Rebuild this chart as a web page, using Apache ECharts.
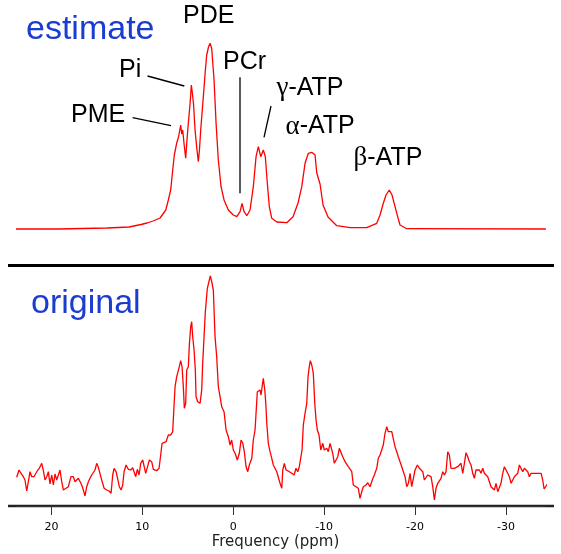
<!DOCTYPE html>
<html>
<head>
<meta charset="utf-8">
<script src="https://cdn.jsdelivr.net/npm/echarts@6/dist/echarts.min.js"></script>
<style>
html,body{margin:0;padding:0;background:#fff;}
#chart{width:561px;height:554px;}
</style>
</head>
<body>
<div id="chart"></div>
<script>
// Tick labels of the frequency axis (ppm)
const ppmTicks = [20, 10, 0, -10, -20, -30];
const axisMin = -34.3;
const axisMax = 23.9;

// Fitted ("estimate") spectrum: [ppm, amplitude]
const estimateSpectrum = [
  [23.90,0],[19.28,0],[19.17,1],[13.89,1],[13.78,2],[11.46,2],[11.35,3],[10.14,4.5],[9.48,6],[8.82,8],
  [8.05,11],[7.42,19],[7.14,29],[6.88,39],[6.66,59],[6.48,74],[6.22,86],[6.02,92],[5.78,104],[5.67,95],
  [5.56,99],[5.41,85],[5.23,70.7],[5.08,90],[4.94,106],[4.75,125],[4.61,144],[4.50,136],[4.37,125],[4.20,99],
  [4.00,80],[3.84,67.3],[3.71,80],[3.58,99],[3.29,132.3],[3.10,155],[2.92,174],[2.72,182],[2.55,185.7],[2.37,180.7],
  [2.11,149],[1.89,106],[1.64,69],[1.34,42.3],[1.01,29],[0.54,19],[-0.01,14],[-0.39,12.3],[-0.75,17.3],[-0.97,25.7],
  [-1.19,17.3],[-1.49,13.3],[-1.85,19],[-2.21,42.3],[-2.51,72.3],[-2.76,82.3],[-3.03,72.3],[-3.31,79],[-3.53,72.3],[-3.75,45.7],
  [-3.97,22.3],[-4.24,10.7],[-4.79,7],[-5.89,6.3],[-6.58,12.3],[-7.13,26],[-7.54,42.3],[-7.90,65.7],[-8.26,75.7],[-8.64,76.7],
  [-9.00,74],[-9.19,56],[-9.55,45],[-9.88,24],[-10.43,12],[-11.39,3.3],[-12.85,1.3],[-14.69,1.3],[-15.79,5.7],[-16.15,14],
  [-16.51,25.7],[-16.81,34],[-17.17,39],[-17.47,34],[-17.80,22.3],[-18.13,11],[-18.35,4],[-19.09,0.3],[-34.40,0]
];

// Measured ("original") spectrum: [ppm, amplitude]
const originalSpectrum = [
  [23.82,28.7],[23.57,36],[23.27,31.7],[23.09,29.3],[22.91,26],[22.72,15],[22.54,24.3],[22.36,34.3],[22.17,29.3],[21.92,29.3],
  [21.70,27.7],[21.55,35.3],[21.33,37.7],[21.07,42.7],[20.89,35.3],[20.71,26],[20.52,29.3],[20.34,34.3],[20.16,22],[19.97,31],
  [19.79,21],[19.61,32],[19.42,26],[19.24,31],[19.06,36],[18.87,24.3],[18.69,16],[18.40,17.7],[18.14,19.3],[17.85,29.3],
  [17.59,29.3],[17.41,24.3],[17.22,26],[17.04,27.7],[16.86,27.7],[16.67,21],[16.49,16],[16.31,10],[16.12,19.3],[15.94,24.3],
  [15.76,27.7],[15.57,31],[15.39,29.3],[15.21,36],[15.02,42.7],[14.84,38.7],[14.66,36.7],[14.47,26],[14.21,17.7],[13.92,16],
  [13.66,15],[13.44,12.7],[13.26,31],[13.11,37.7],[12.89,34.3],[12.71,34.3],[12.53,19.3],[12.34,16],[12.16,21],[12.01,34.3],
  [11.79,41],[11.54,36.7],[11.28,36],[11.06,38.3],[10.91,36.7],[10.73,29.3],[10.55,36.7],[10.36,31],[10.18,42.7],[9.96,46],
  [9.81,47.7],[9.63,32.7],[9.45,38.7],[9.23,46],[8.97,44.3],[8.79,36.7],[8.42,35.3],[8.16,37.7],[7.98,51],[7.83,62.7],
  [7.61,61],[7.39,64.3],[7.14,71],[6.88,71],[6.66,74.3],[6.51,101],[6.40,119.3],[6.22,129.3],[5.93,139.3],[5.78,145.3],
  [5.63,139.3],[5.49,119.3],[5.38,97.7],[5.23,102.7],[5.12,136],[4.94,139.3],[4.83,161],[4.68,179.3],[4.57,184.3],[4.46,169.3],
  [4.31,156],[4.17,136],[4.09,109.3],[3.91,104.3],[3.65,102.7],[3.47,116],[3.36,142.7],[3.21,169.3],[3.07,194.3],[2.85,217.7],
  [2.63,226],[2.52,230],[2.37,224.3],[2.19,216],[2.00,169.3],[1.82,149.3],[1.64,119.3],[1.45,109.3],[1.27,99.3],[1.01,94.3],
  [0.79,76],[0.54,69.3],[0.35,61],[0.17,66],[-0.01,56],[-0.20,52.7],[-0.45,46],[-0.67,52.7],[-0.86,66],[-1.05,62.7],
  [-1.22,54.3],[-1.41,39.3],[-1.60,34.3],[-1.77,41],[-2.04,47.7],[-2.21,66],[-2.40,76],[-2.51,92.7],[-2.65,114.3],[-2.84,112.7],
  [-2.95,116],[-3.06,111],[-3.20,121],[-3.31,127.7],[-3.47,116],[-3.58,102.7],[-3.69,82.7],[-3.86,62.7],[-4.05,54.3],[-4.24,47.7],
  [-4.41,41],[-4.63,39.3],[-4.79,34.3],[-4.96,32.7],[-5.15,22.7],[-5.34,17.7],[-5.45,36],[-5.62,42.7],[-5.81,36],[-5.95,37.7],
  [-6.17,34.3],[-6.44,32.7],[-6.69,31],[-6.91,37.7],[-7.10,34.3],[-7.27,39.3],[-7.43,41],[-7.57,56],[-7.71,81],[-7.90,92.7],
  [-8.09,102.7],[-8.23,129.3],[-8.37,139.3],[-8.48,145.3],[-8.64,141],[-8.81,132.7],[-8.97,102.7],[-9.11,86],[-9.25,76],[-9.44,71],
  [-9.63,56],[-9.85,62.7],[-10.02,56],[-10.29,57.7],[-10.46,54.3],[-10.65,62.7],[-10.76,61],[-10.95,52.7],[-11.12,42.7],[-11.31,41],
  [-11.50,49.3],[-11.67,57.7],[-11.86,59.3],[-12.05,49.3],[-12.30,44.3],[-12.49,42.7],[-12.66,39.3],[-12.85,41],[-13.04,34.3],[-13.21,21],
  [-13.51,19.3],[-13.76,17.7],[-13.95,7.7],[-14.14,14.3],[-14.31,19.3],[-14.61,21],[-14.80,23.3],[-15.05,19.3],[-15.30,26],[-15.52,31],
  [-15.79,37.7],[-15.96,47.7],[-16.15,51],[-16.34,52.7],[-16.51,61],[-16.70,72.7],[-16.89,79.3],[-17.06,74.3],[-17.25,76],[-17.44,74.3],
  [-17.61,76],[-17.80,59.3],[-17.99,54.3],[-18.16,49.3],[-18.35,47.7],[-18.54,39.3],[-18.71,37.7],[-18.90,29.3],[-19.09,19.3],[-19.27,22.7],
  [-19.45,32.7],[-19.64,19.3],[-19.82,27.7],[-20.00,36],[-20.26,41],[-20.48,37.7],[-20.66,39.3],[-20.85,34.3],[-21.03,26],[-21.21,24.3],
  [-21.40,31],[-21.58,32.7],[-21.76,29.3],[-21.95,19.3],[-22.13,6],[-22.31,17.7],[-22.50,22.7],[-22.68,22.7],[-22.86,27.7],[-23.05,34.3],
  [-23.23,31],[-23.41,34.3],[-23.60,54.3],[-23.78,51],[-23.96,37.7],[-24.15,39.3],[-24.33,37.7],[-24.51,37.7],[-24.70,39.3],[-24.88,37.7],
  [-25.06,42.7],[-25.25,32.7],[-25.43,42.7],[-25.61,53.3],[-25.80,49.3],[-25.98,44.3],[-26.16,41],[-26.35,32.7],[-26.53,27.7],[-26.71,36],
  [-26.90,34.3],[-27.08,36],[-27.26,32.7],[-27.45,37.7],[-27.63,32.7],[-27.81,31],[-28.00,29.3],[-28.18,24.3],[-28.36,19.3],[-28.55,17.7],
  [-28.73,16],[-28.91,22.7],[-29.10,14.3],[-29.28,12.7],[-29.46,22.7],[-29.65,32.7],[-29.83,39.3],[-30.02,37.7],[-30.20,32.7],[-30.38,29.3],
  [-30.57,22.7],[-30.75,21],[-30.93,29.3],[-31.12,31],[-31.30,32.7],[-31.48,41],[-31.67,39.3],[-31.85,34.3],[-32.03,37.7],[-32.22,39.3],
  [-32.40,34.3],[-32.58,29.3],[-32.77,32.7],[-32.95,34.3],[-33.13,32.7],[-33.32,34.3],[-33.50,32.7],[-33.68,31],[-33.87,32.7],[-34.05,26],
  [-34.20,17],[-34.38,17.7],[-34.49,21],[-34.60,22]
];

const panelTitles = ['estimate', 'original'];

const chart = echarts.init(document.getElementById('chart'), null, {renderer: 'canvas'});

const labelFont = '25px "Liberation Sans", Arial, sans-serif';
const greekRich = { g: { font: '27px "Liberation Serif", "Times New Roman", serif', fill: '#000' } };
function label(x, y, text) {
  return { type: 'text', x: x, y: y, silent: true,
    style: { text: text, font: labelFont, fill: '#000', verticalAlign: 'middle', align: 'left', rich: greekRich } };
}
function leader(x1, y1, x2, y2) {
  return { type: 'line', silent: true, shape: { x1: x1, y1: y1, x2: x2, y2: y2 },
    style: { stroke: '#000', lineWidth: 1.3 } };
}

const option = {
  animation: false,
  backgroundColor: '#ffffff',
  grid: [
    { left: 16, right: 16, top: 29, height: 200 },
    { left: 16, right: 16, top: 271, height: 240 }
  ],
  xAxis: [
    { gridIndex: 0, type: 'value', min: axisMin, max: axisMax, inverse: true, show: false },
    { gridIndex: 1, type: 'value', min: axisMin, max: axisMax, inverse: true,
      axisLine: { show: true, lineStyle: { color: '#333', width: 1 } },
      axisTick: { show: true, customValues: ppmTicks, length: 9, lineStyle: { color: '#333', width: 1 } },
      axisLabel: { show: true, customValues: ppmTicks, margin: 11, color: '#000',
        fontFamily: '"DejaVu Sans", sans-serif', fontSize: 11 },
      splitLine: { show: false },
      name: 'Frequency (ppm)', nameLocation: 'middle', nameGap: 24,
      nameTextStyle: { fontFamily: '"DejaVu Sans", sans-serif', fontSize: 15, color: '#222', padding: [0, 10, 0, 0] }
    }
  ],
  yAxis: [
    { gridIndex: 0, type: 'value', min: 0, max: 200, show: false },
    { gridIndex: 1, type: 'value', min: -5, max: 235, show: false }
  ],
  series: [
    { type: 'line', xAxisIndex: 0, yAxisIndex: 0, data: estimateSpectrum, showSymbol: false, clip: false,
      lineStyle: { color: '#ff0000', width: 1.3 }, silent: true },
    { type: 'line', xAxisIndex: 1, yAxisIndex: 1, data: originalSpectrum, showSymbol: false, clip: false,
      lineStyle: { color: '#ff0000', width: 1.3 }, silent: true }
  ],
  graphic: [
    { type: 'line', silent: true, shape: { x1: 8, y1: 265.5, x2: 554, y2: 265.5 }, style: { stroke: '#000', lineWidth: 3 } },
    { type: 'line', silent: true, shape: { x1: 8, y1: 506, x2: 554, y2: 506 }, style: { stroke: '#222', lineWidth: 2.5 } },
    { type: 'text', x: 26, y: 30, silent: true,
      style: { text: panelTitles[0], font: '34px "Liberation Sans", Arial, sans-serif', fill: '#1a3cd0', verticalAlign: 'middle' } },
    { type: 'text', x: 31, y: 304, silent: true,
      style: { text: panelTitles[1], font: '34px "Liberation Sans", Arial, sans-serif', fill: '#1a3cd0', verticalAlign: 'middle' } },
    label(183, 16, 'PDE'),
    label(119, 70.5, 'Pi'),
    label(71, 114.7, 'PME'),
    label(223, 61.7, 'PCr'),
    label(276.5, 88, '{g|γ}-ATP'),
    label(285.5, 126.5, '{g|α}-ATP'),
    label(353.5, 158.3, '{g|β}-ATP'),
    leader(147.5, 76, 184.3, 86),
    leader(132.6, 117.7, 171, 125.7),
    leader(240, 77.3, 240, 193.3),
    leader(271, 106, 264, 137.3)
  ]
};
chart.setOption(option);
</script>
</body>
</html>
